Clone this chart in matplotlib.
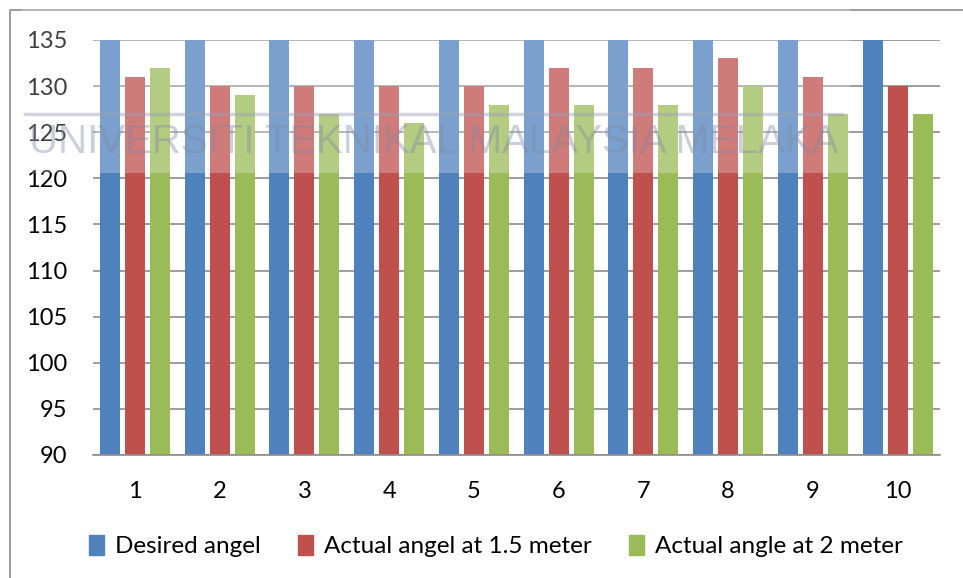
import matplotlib
matplotlib.use("Agg")
import matplotlib.pyplot as plt
import numpy as np
from matplotlib.patches import Rectangle
from matplotlib.lines import Line2D

plt.rcParams['font.family'] = ['Lato', 'DejaVu Sans']

categories = ['1', '2', '3', '4', '5', '6', '7', '8', '9', '10']
desired = [135, 135, 135, 135, 135, 135, 135, 135, 135, 135]
actual_15 = [131, 130, 130, 130, 130, 132, 132, 133, 131, 130]
actual_2 = [132, 129, 127, 126, 128, 128, 128, 130, 127, 127]
series_names = ['Desired angel', 'Actual angel at 1.5 meter', 'Actual angle at 2 meter']
colors = ['#4F81BD', '#C0504D', '#9BBB59']

W, H = 963, 578
fig = plt.figure(figsize=(W / 100, H / 100), dpi=100)
ax = fig.add_axes([92.6 / W, (H - 455) / H, (940 - 92.6) / W, (455 - 40) / H])

x = np.arange(len(categories))
bw = 0.236
step = 0.295
for i, (vals, c, name) in enumerate(zip([desired, actual_15, actual_2], colors, series_names)):
    ax.bar(x + (i - 1) * step, vals, width=bw, color=c, label=name, zorder=2)

ax.set_ylim(90, 135)
ax.set_xlim(-0.5, len(categories) - 0.5)
ax.set_yticks(range(90, 136, 5))
ax.set_xticks(x)
ax.set_xticklabels(categories)
ax.yaxis.grid(True, color='#8c8c8c', linewidth=1.2, zorder=0)
ax.set_axisbelow(True)
for s in ['top', 'right', 'left']:
    ax.spines[s].set_visible(False)
ax.spines['bottom'].set_color('#8c8c8c')
ax.spines['bottom'].set_linewidth(1.2)
ax.tick_params(axis='both', length=0, labelsize=17)
ax.tick_params(axis='y', pad=18)
ax.tick_params(axis='x', pad=19)

# legend
handles = [Rectangle((0, 0), 1, 1, color=c) for c in colors]
fig.legend(handles, series_names, loc='center', bbox_to_anchor=(496 / W, (H - 546) / H),
           ncol=3, frameon=False, fontsize=17.5, handlelength=0.6, handleheight=0.9,
           handletextpad=0.45, columnspacing=1.55)

# chart border (left and top)
fig.add_artist(Line2D([10 / W, 10 / W, 1.0], [0.0, (H - 10) / H, (H - 10) / H],
                      transform=fig.transFigure, color='#8a8a8a', linewidth=1.2))

# watermark
fig.add_artist(Rectangle((22 / W, (H - 173) / H), (850 - 22) / W, 173 / H,
                         transform=fig.transFigure, facecolor='white', alpha=0.25,
                         edgecolor='none', zorder=5))
fig.add_artist(Line2D([25 / W, 842 / W], [(H - 114) / H, (H - 114) / H],
                      transform=fig.transFigure, color='#9aa0b4', alpha=0.45,
                      linewidth=2.5, zorder=6))
fig.text(434 / W, (H - 142) / H, 'UNIVERSITI TEKNIKAL MALAYSIA MELAKA',
         family='Liberation Sans', fontsize=29, color='#7f88a4', alpha=0.4,
         ha='center', va='center', zorder=6)

fig.savefig('out.png', dpi=100)
